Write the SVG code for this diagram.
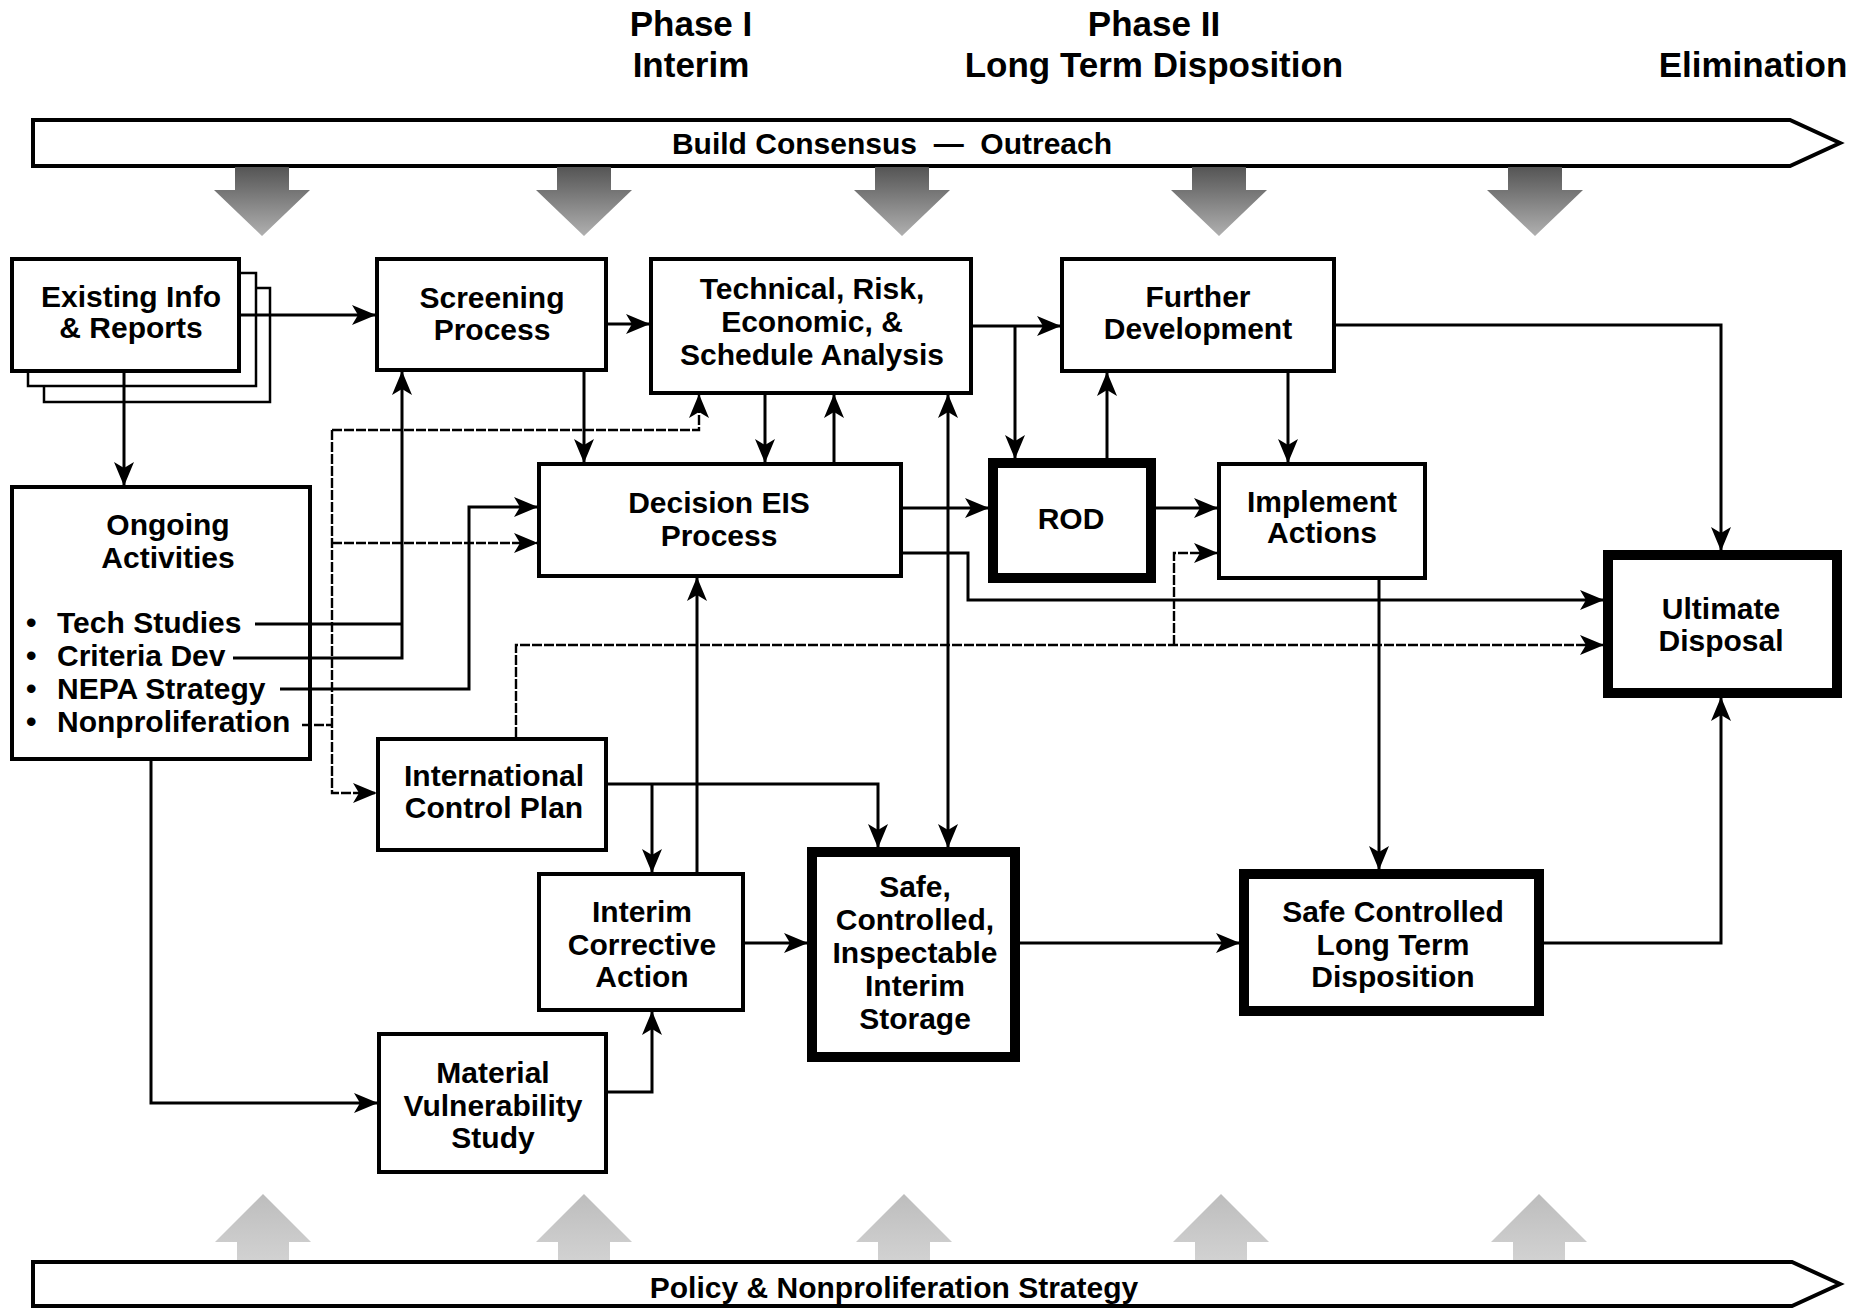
<svg xmlns="http://www.w3.org/2000/svg" width="1854" height="1309" viewBox="0 0 1854 1309">
<style>
  .t { font-family: "Liberation Sans", Arial, Helvetica, sans-serif; font-weight: bold; font-size: 30px; text-anchor: middle; fill: #000; }
  .h { font-size: 35px; }
  .l { text-anchor: start; }
  .box { fill: #fff; stroke: #000; stroke-width: 4; }
  .thick { stroke-width: 10; }
  .shadow { fill: #fff; stroke: #000; stroke-width: 2.5; }
  .banner { fill: #fff; stroke: #000; stroke-width: 4; stroke-linejoin: miter; }
  .c { fill: none; stroke: #000; stroke-width: 3; }
  .a { marker-end: url(#ah); }
  .d { stroke-dasharray: 10 2; stroke-width: 2.4; }
  .dn { fill: url(#gDown); }
  .up { fill: url(#gUp); }
</style>
<defs>
  <marker id="ah" viewBox="0 0 24 20" refX="23" refY="10" markerWidth="24" markerHeight="20" markerUnits="userSpaceOnUse" orient="auto-start-reverse">
    <path d="M0,0 L24,10 L0,20 L6,10 Z" fill="#000"/>
  </marker>
  <linearGradient id="gDown" x1="0" y1="0" x2="0" y2="1">
    <stop offset="0" stop-color="#555"/>
    <stop offset="1" stop-color="#b0b0b0"/>
  </linearGradient>
  <linearGradient id="gUp" x1="0" y1="0" x2="0" y2="1">
    <stop offset="0" stop-color="#bdbdbd"/>
    <stop offset="1" stop-color="#d2d2d2"/>
  </linearGradient>
</defs>
<rect width="1854" height="1309" fill="#fff"/>

<g id="headers">
  <text class="t h" x="691" y="36">Phase I</text>
  <text class="t h" x="691" y="77">Interim</text>
  <text class="t h" x="1154" y="36">Phase II</text>
  <text class="t h" x="1154" y="77">Long Term Disposition</text>
  <text class="t h" x="1753" y="77">Elimination</text>
</g>

<g id="banner-top">
  <path class="banner" d="M33,120 L1790,120 L1840,143 L1790,166 L33,166 Z"/>
  <text class="t" x="892" y="154" xml:space="preserve">Build Consensus  —  Outreach</text>
</g>

<g id="down-arrows">
  <polygon class="dn" points="235,167 289,167 289,190 310,190 262,236 214,190 235,190"/>
  <polygon class="dn" points="557,167 611,167 611,190 632,190 584,236 536,190 557,190"/>
  <polygon class="dn" points="875,167 929,167 929,190 950,190 902,236 854,190 875,190"/>
  <polygon class="dn" points="1192,167 1246,167 1246,190 1267,190 1219,236 1171,190 1192,190"/>
  <polygon class="dn" points="1508,167 1562,167 1562,190 1583,190 1535,236 1487,190 1508,190"/>
</g>

<g id="up-arrows">
  <polygon class="up" points="263,1194 311,1242 289,1242 289,1262 237,1262 237,1242 215,1242"/>
  <polygon class="up" points="584,1194 632,1242 610,1242 610,1262 558,1262 558,1242 536,1242"/>
  <polygon class="up" points="904,1194 952,1242 930,1242 930,1262 878,1262 878,1242 856,1242"/>
  <polygon class="up" points="1221,1194 1269,1242 1247,1242 1247,1262 1195,1262 1195,1242 1173,1242"/>
  <polygon class="up" points="1539,1194 1587,1242 1565,1242 1565,1262 1513,1262 1513,1242 1491,1242"/>
</g>

<g id="banner-bottom">
  <path class="banner" d="M33,1262 L1792,1262 L1840,1284 L1792,1306 L33,1306 Z"/>
  <text class="t" x="894" y="1298">Policy &amp; Nonproliferation Strategy</text>
</g>

<g id="existing">
  <rect class="shadow" x="44" y="288" width="226" height="114"/>
  <rect class="shadow" x="28" y="273" width="228" height="113"/>
  <rect class="box" x="12" y="259" width="227" height="112"/>
  <text class="t" x="131" y="307">Existing Info</text>
  <text class="t" x="131" y="338">&amp; Reports</text>
</g>

<g id="screening">
  <rect class="box" x="377" y="259" width="229" height="111"/>
  <text class="t" x="492" y="308">Screening</text>
  <text class="t" x="492" y="340">Process</text>
</g>

<g id="technical">
  <rect class="box" x="651" y="259" width="320" height="134"/>
  <text class="t" x="812" y="299">Technical, Risk,</text>
  <text class="t" x="812" y="332">Economic, &amp;</text>
  <text class="t" x="812" y="365">Schedule Analysis</text>
</g>

<g id="further">
  <rect class="box" x="1062" y="259" width="272" height="112"/>
  <text class="t" x="1198" y="307">Further</text>
  <text class="t" x="1198" y="339">Development</text>
</g>

<g id="ongoing">
  <rect class="box" x="12" y="487" width="298" height="272"/>
  <text class="t" x="168" y="535">Ongoing</text>
  <text class="t" x="168" y="568">Activities</text>
  <text class="t l" x="26" y="633">•</text><text class="t l" x="57" y="633">Tech Studies</text>
  <text class="t l" x="26" y="666">•</text><text class="t l" x="57" y="666">Criteria Dev</text>
  <text class="t l" x="26" y="699">•</text><text class="t l" x="57" y="699">NEPA Strategy</text>
  <text class="t l" x="26" y="732">•</text><text class="t l" x="57" y="732">Nonproliferation</text>
</g>

<g id="decision">
  <rect class="box" x="539" y="464" width="362" height="112"/>
  <text class="t" x="719" y="513">Decision EIS</text>
  <text class="t" x="719" y="546">Process</text>
</g>

<g id="rod">
  <rect class="box thick" x="993" y="463" width="158" height="115"/>
  <text class="t" x="1071" y="529">ROD</text>
</g>

<g id="implement">
  <rect class="box" x="1219" y="464" width="206" height="114"/>
  <text class="t" x="1322" y="512">Implement</text>
  <text class="t" x="1322" y="543">Actions</text>
</g>

<g id="ultimate">
  <rect class="box thick" x="1608" y="555" width="229" height="138"/>
  <text class="t" x="1721" y="619">Ultimate</text>
  <text class="t" x="1721" y="651">Disposal</text>
</g>

<g id="international">
  <rect class="box" x="378" y="739" width="228" height="111"/>
  <text class="t" x="494" y="786">International</text>
  <text class="t" x="494" y="818">Control Plan</text>
</g>

<g id="interim">
  <rect class="box" x="539" y="874" width="204" height="136"/>
  <text class="t" x="642" y="922">Interim</text>
  <text class="t" x="642" y="955">Corrective</text>
  <text class="t" x="642" y="987">Action</text>
</g>

<g id="storage">
  <rect class="box thick" x="812" y="852" width="203" height="205"/>
  <text class="t" x="915" y="897">Safe,</text>
  <text class="t" x="915" y="930">Controlled,</text>
  <text class="t" x="915" y="963">Inspectable</text>
  <text class="t" x="915" y="996">Interim</text>
  <text class="t" x="915" y="1029">Storage</text>
</g>

<g id="longterm">
  <rect class="box thick" x="1244" y="874" width="295" height="137"/>
  <text class="t" x="1393" y="922">Safe Controlled</text>
  <text class="t" x="1393" y="955">Long Term</text>
  <text class="t" x="1393" y="987">Disposition</text>
</g>

<g id="material">
  <rect class="box" x="379" y="1034" width="227" height="138"/>
  <text class="t" x="493" y="1083">Material</text>
  <text class="t" x="493" y="1116">Vulnerability</text>
  <text class="t" x="493" y="1148">Study</text>
</g>

<g id="connectors">
  <path class="c a" d="M241,315 H375"/>
  <path class="c a" d="M124,373 V485"/>
  <path class="c a" d="M608,324 H649"/>
  <path class="c a" d="M584,372 V462"/>
  <path class="c a" d="M973,326 H1060"/>
  <path class="c a" d="M1015,326 V458"/>
  <path class="c a" d="M765,395 V462"/>
  <path class="c a" d="M834,462 V395"/>
  <path class="c a" d="M948,395 V847" marker-start="url(#ah)"/>
  <path class="c a" d="M1107,458 V373"/>
  <path class="c a" d="M1288,373 V462"/>
  <path class="c a" d="M1336,325 H1721 V550"/>
  <path class="c a" d="M903,508 H988"/>
  <path class="c a" d="M1156,508 H1217"/>
  <path class="c a" d="M903,553 H968 V600 H1603"/>
  <path class="c a" d="M1379,580 V869"/>
  <path class="c a" d="M1544,943 H1721 V698"/>
  <path class="c a" d="M1020,943 H1239"/>
  <path class="c a" d="M745,943 H807"/>
  <path class="c a" d="M697,872 V578"/>
  <path class="c a" d="M608,784 H878 V847"/>
  <path class="c a" d="M652,784 V872"/>
  <path class="c a" d="M608,1092 H652 V1012"/>
  <path class="c a" d="M151,761 V1103 H377"/>
  <path class="c" d="M255,624 H402"/>
  <path class="c a" d="M233,658 H402 V372"/>
  <path class="c a" d="M280,689 H469 V507 H537"/>
  <path class="c d" d="M302,725 H332"/>
  <path class="c d a" d="M332,430 V793 H376"/>
  <path class="c d a" d="M332,430 H699 V395"/>
  <path class="c d a" d="M332,543 H537"/>
  <path class="c d a" d="M516,737 V645 H1603"/>
  <path class="c d a" d="M1174,645 V553 H1217"/>
</g>
</svg>
